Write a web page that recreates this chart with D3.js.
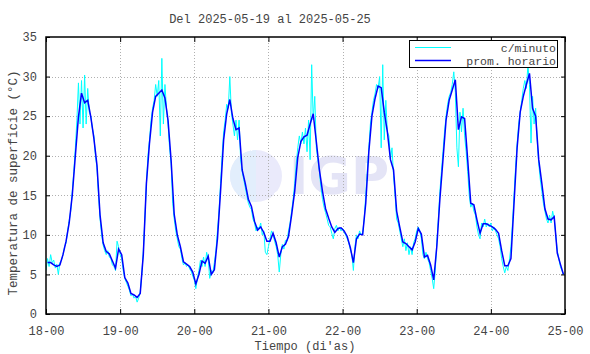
<!DOCTYPE html>
<html>
<head>
<meta charset="utf-8">
<script src="https://cdn.jsdelivr.net/npm/d3@7"></script>
<style>
  body { margin: 0; background: #fff; }
  svg { display: block; font-family: "Liberation Mono", "Courier New", monospace; }
</style>
</head>
<body>
<div id="chart"></div>
<script>
// etiquetas del eje x (dia-hora)
const dayLabels = ["18-00", "19-00", "20-00", "21-00", "22-00", "23-00", "24-00", "25-00"];
const yTicks = [0, 5, 10, 15, 20, 25, 30, 35];

// promedio horario, 24 valores por dia
const hourly18 = [6.5, 6.5, 6.2, 6.0, 6.2, 7.5, 9.2, 11.5, 15.0, 20.0, 24.9, 27.9, 26.7, 27.0, 24.9, 22.2, 18.8, 12.5, 9.0, 7.9, 7.6, 6.7, 5.8, 8.2];
const hourly19 = [7.5, 4.6, 3.9, 2.6, 2.4, 2.1, 2.6, 7.5, 16.5, 21.6, 25.5, 27.5, 27.9, 28.3, 27.3, 24.5, 19.4, 12.6, 10.0, 8.5, 6.6, 6.3, 6.0, 5.3];
const hourly20 = [3.8, 5.0, 6.7, 6.4, 7.3, 5.0, 5.6, 9.5, 15.5, 22.0, 25.3, 27.1, 24.7, 23.3, 23.5, 18.2, 16.5, 14.5, 13.6, 11.7, 10.6, 11.0, 10.3, 9.2];
const hourly21 = [9.2, 10.2, 9.0, 7.2, 8.5, 8.8, 9.8, 12.5, 15.5, 19.8, 21.8, 22.4, 22.6, 24.0, 25.3, 21.8, 18.2, 15.5, 13.3, 12.1, 11.0, 10.3, 10.8, 10.9];
const hourly22 = [10.5, 9.8, 8.4, 6.5, 9.5, 10.1, 10.0, 14.0, 20.5, 25.0, 27.2, 28.8, 28.6, 25.5, 23.0, 19.5, 18.2, 13.0, 11.0, 9.1, 8.9, 8.5, 8.1, 9.1];
const hourly23 = [10.8, 10.1, 7.2, 7.4, 6.2, 4.3, 8.5, 14.5, 19.5, 24.5, 27.0, 28.3, 29.6, 23.3, 24.9, 24.7, 19.5, 14.0, 13.8, 11.9, 10.2, 11.4, 11.4, 11.2];
const hourly24 = [11.0, 10.7, 10.2, 8.0, 6.1, 6.1, 7.0, 14.0, 21.0, 25.5, 27.5, 29.0, 30.4, 26.0, 25.0, 19.5, 16.5, 13.3, 12.0, 11.9, 12.3, 7.7, 6.3, 5.0];

// lecturas c/minuto (muestreadas cada 30 min), 48 valores por dia
const minute18 = [5.5, 7.0, 6.0, 7.5, 6.5, 6.8, 5.8, 6.3, 5.0, 6.5, 6.8, 7.5, 8.5, 9.0, 10.5, 11.8, 13.0, 15.5, 18.0, 21.0, 24.5, 29.2, 24.0, 29.5, 23.5, 30.2, 24.0, 28.5, 25.5, 25.0, 23.5, 22.5, 20.0, 18.5, 15.0, 12.0, 10.0, 8.7, 8.0, 7.5, 8.0, 7.2, 7.0, 6.2, 6.0, 5.5, 9.2, 8.5];
const minute19 = [7.5, 7.0, 5.5, 4.5, 4.0, 3.5, 3.0, 2.3, 2.5, 2.0, 2.2, 1.5, 2.0, 2.8, 5.0, 8.0, 12.0, 16.5, 20.0, 22.0, 24.5, 26.0, 27.0, 29.0, 27.5, 29.5, 22.5, 32.3, 24.0, 29.0, 26.0, 24.0, 21.0, 19.0, 14.0, 12.0, 10.5, 9.5, 8.5, 8.2, 7.0, 6.2, 6.5, 6.0, 6.2, 5.7, 5.4, 4.8];
const minute20 = [4.3, 3.2, 4.5, 5.5, 6.8, 6.0, 7.2, 6.0, 7.8, 7.0, 4.5, 5.5, 5.2, 6.5, 8.0, 10.5, 13.0, 16.5, 20.0, 23.0, 24.5, 26.5, 26.0, 30.0, 25.5, 24.0, 22.5, 24.5, 22.0, 24.5, 19.5, 18.0, 17.0, 16.0, 15.0, 14.0, 13.5, 13.2, 12.0, 11.5, 10.5, 11.0, 10.8, 11.5, 10.0, 10.5, 7.8, 7.5];
const minute21 = [8.5, 9.5, 10.5, 10.0, 9.2, 8.5, 7.5, 5.3, 7.5, 8.8, 8.2, 9.3, 9.2, 10.5, 11.5, 13.0, 14.5, 16.5, 19.0, 21.0, 22.5, 21.5, 23.0, 21.5, 23.5, 20.5, 24.5, 19.5, 31.5, 24.5, 27.5, 21.0, 19.5, 18.0, 16.0, 14.5, 13.5, 12.8, 12.0, 11.2, 11.0, 10.2, 9.5, 10.8, 11.2, 10.5, 11.0, 10.5];
const minute22 = [10.8, 10.3, 10.0, 9.5, 9.0, 8.2, 7.5, 5.5, 8.5, 10.0, 9.5, 10.5, 10.0, 10.3, 12.0, 15.0, 18.0, 21.0, 24.0, 25.5, 27.0, 27.8, 29.0, 28.5, 30.0, 21.0, 31.5, 22.0, 27.0, 23.0, 22.5, 19.5, 21.0, 17.5, 15.0, 12.0, 11.5, 10.5, 9.5, 8.5, 9.5, 8.0, 9.0, 7.5, 8.5, 7.5, 9.0, 9.5];
const minute23 = [10.5, 11.0, 10.5, 9.5, 7.5, 7.0, 7.8, 7.0, 6.5, 5.5, 4.5, 3.2, 5.5, 9.0, 12.0, 15.5, 18.0, 20.5, 23.0, 25.0, 26.5, 27.5, 28.0, 29.0, 30.6, 28.0, 21.0, 18.6, 25.5, 23.0, 26.0, 22.5, 20.5, 18.0, 15.0, 13.5, 14.0, 13.0, 12.5, 11.0, 10.0, 9.5, 11.5, 11.0, 12.0, 11.0, 11.5, 11.0];
const minute24 = [11.5, 10.5, 11.0, 10.5, 10.0, 9.5, 8.5, 7.0, 6.0, 5.2, 6.0, 5.5, 6.8, 8.5, 11.5, 15.0, 18.5, 21.5, 24.0, 25.5, 27.0, 28.5, 29.5, 28.5, 31.5, 29.0, 21.6, 27.5, 24.0, 26.0, 22.0, 19.0, 17.0, 15.5, 14.0, 13.0, 12.0, 11.5, 12.5, 11.5, 13.0, 12.0, 10.0, 8.0, 7.0, 6.0, 5.5, 5.0];

const hourlyDays = [hourly18, hourly19, hourly20, hourly21, hourly22, hourly23, hourly24];
const minuteDays = [minute18, minute19, minute20, minute21, minute22, minute23, minute24];

const width = 590, height = 354;
const margin = { top: 37, right: 25, bottom: 40, left: 46 };
const textColor = "#444";

const hourlyData = hourlyDays.flatMap((day, d) => day.map((v, h) => ({ t: d * 24 + h + 0.5, v })));
const minuteData = minuteDays.flatMap((day, d) => day.map((v, k) => ({ t: d * 24 + k * 0.5, v })));

const svg = d3.select("#chart")
  .append("svg")
  .attr("width", width)
  .attr("height", height);

const x = d3.scaleLinear()
  .domain([0, 24 * 7])
  .range([margin.left, width - margin.right]);

const y = d3.scaleLinear()
  .domain([0, 35])
  .range([height - margin.bottom, margin.top]);

const dayTicks = dayLabels.map((d, i) => i * 24);

svg.append("clipPath")
  .attr("id", "plot-clip")
  .append("rect")
  .attr("x", margin.left)
  .attr("y", margin.top)
  .attr("width", x.range()[1] - margin.left)
  .attr("height", y.range()[0] - margin.top);

// marca de agua IGP
const wm = svg.append("g").attr("fill", "#e6e6f7");
const cx = 256, cy = 176, r = 26;
wm.append("circle").attr("cx", cx).attr("cy", cy).attr("r", r).attr("fill", "#eaeafb");
wm.append("path")
  .attr("d", `M${cx - r} ${cy} A${r} ${r} 0 0 1 ${cx} ${cy - r} L${cx} ${cy + r} A${r} ${r} 0 0 1 ${cx - r} ${cy}`)
  .attr("fill", "#e2eefc");
[0.45, 0.7, 0.9].forEach(f => {
  wm.append("path")
    .attr("d", `M${cx - r * 0.2} ${cy - r} A${r * f} ${r * f} 0 0 1 ${cx + r * 0.7} ${cy + r * 0.7}`)
    .attr("fill", "none")
    .attr("stroke", "#fff")
    .attr("stroke-width", 1.5);
});
wm.append("text")
  .attr("x", 289)
  .attr("y", 194)
  .attr("font-family", "'DejaVu Sans', sans-serif")
  .attr("font-weight", "bold")
  .attr("font-size", 52)
  .attr("fill", "#e4e4f6")
  .text("IGP");

// rejilla punteada
const grid = svg.append("g")
  .attr("stroke", "#b0b0b0")
  .attr("stroke-width", 1)
  .attr("stroke-dasharray", "1,2");

grid.selectAll(".gy")
  .data(yTicks.slice(1, -1))
  .join("line")
  .attr("x1", margin.left)
  .attr("x2", x.range()[1])
  .attr("y1", d => Math.round(y(d)) + 0.5)
  .attr("y2", d => Math.round(y(d)) + 0.5);

grid.selectAll(".gx")
  .data(dayTicks.slice(1, -1))
  .join("line")
  .attr("x1", d => Math.round(x(d)) + 0.5)
  .attr("x2", d => Math.round(x(d)) + 0.5)
  .attr("y1", margin.top)
  .attr("y2", y.range()[0]);

// series
const line = d3.line()
  .x(d => x(d.t))
  .y(d => y(d.v));

const plot = svg.append("g").attr("clip-path", "url(#plot-clip)");

plot.append("path")
  .datum(minuteData)
  .attr("fill", "none")
  .attr("stroke", "#00ffff")
  .attr("stroke-width", 1)
  .attr("d", line);

plot.append("path")
  .datum(hourlyData)
  .attr("fill", "none")
  .attr("stroke", "#0000ff")
  .attr("stroke-width", 1.5)
  .attr("d", line);

// ejes
const xAxisB = d3.axisBottom(x)
  .tickValues(dayTicks)
  .tickFormat((d, i) => dayLabels[i])
  .tickSizeInner(-5)
  .tickSizeOuter(0)
  .tickPadding(12);

const gx = svg.append("g")
  .attr("transform", `translate(0,${y.range()[0]})`)
  .call(xAxisB);
gx.select(".domain").remove();
gx.selectAll("line").attr("stroke", "#000");
gx.selectAll("text")
  .attr("fill", textColor)
  .attr("font-family", "'Liberation Mono', monospace")
  .attr("font-size", 12);

const gxTop = svg.append("g")
  .attr("transform", `translate(0,${margin.top})`)
  .call(d3.axisTop(x).tickValues(dayTicks).tickFormat("").tickSizeInner(-5).tickSizeOuter(0));
gxTop.select(".domain").remove();
gxTop.selectAll("line").attr("stroke", "#000");

const gy = svg.append("g")
  .attr("transform", `translate(${margin.left},0)`)
  .call(d3.axisLeft(y).tickValues(yTicks).tickSizeInner(-4).tickSizeOuter(0).tickPadding(9));
gy.select(".domain").remove();
gy.selectAll("line").attr("stroke", "#000");
gy.selectAll("text")
  .attr("fill", textColor)
  .attr("font-family", "'Liberation Mono', monospace")
  .attr("font-size", 12);

const gyR = svg.append("g")
  .attr("transform", `translate(${x.range()[1]},0)`)
  .call(d3.axisRight(y).tickValues(yTicks).tickFormat("").tickSizeInner(-4).tickSizeOuter(0));
gyR.select(".domain").remove();
gyR.selectAll("line").attr("stroke", "#000");

// marco
svg.append("rect")
  .attr("x", margin.left)
  .attr("y", margin.top)
  .attr("width", x.range()[1] - margin.left)
  .attr("height", y.range()[0] - margin.top)
  .attr("fill", "none")
  .attr("stroke", "#000")
  .attr("stroke-width", 1.5);

// leyenda
const legend = svg.append("g");
legend.append("rect")
  .attr("x", 409.5)
  .attr("y", 40.5)
  .attr("width", 148)
  .attr("height", 27)
  .attr("fill", "#fff")
  .attr("stroke", "#000")
  .attr("stroke-width", 1);

const legendItems = [
  { label: "c/minuto", color: "#00ffff", w: 1 },
  { label: "prom. horario", color: "#0000ff", w: 1.5 }
];
legendItems.forEach((it, i) => {
  const ly = 47.5 + i * 13;
  legend.append("line")
    .attr("x1", 415).attr("x2", 451)
    .attr("y1", ly).attr("y2", ly)
    .attr("stroke", it.color)
    .attr("stroke-width", it.w);
  legend.append("text")
    .attr("x", 556)
    .attr("y", ly + 4)
    .attr("text-anchor", "end")
    .attr("font-size", 11.5)
    .attr("fill", textColor)
    .text(it.label);
});

// titulos
svg.append("text")
  .attr("x", 270)
  .attr("y", 23)
  .attr("text-anchor", "middle")
  .attr("font-size", 12)
  .attr("fill", textColor)
  .text("Del 2025-05-19 al 2025-05-25");

svg.append("text")
  .attr("x", 305)
  .attr("y", 350)
  .attr("text-anchor", "middle")
  .attr("font-size", 12)
  .attr("fill", textColor)
  .text("Tiempo (di'as)");

svg.append("text")
  .attr("transform", "translate(17,183) rotate(-90)")
  .attr("text-anchor", "middle")
  .attr("font-size", 12.5)
  .attr("fill", textColor)
  .text("Temperatura de superficie (°C)");
</script>
</body>
</html>
